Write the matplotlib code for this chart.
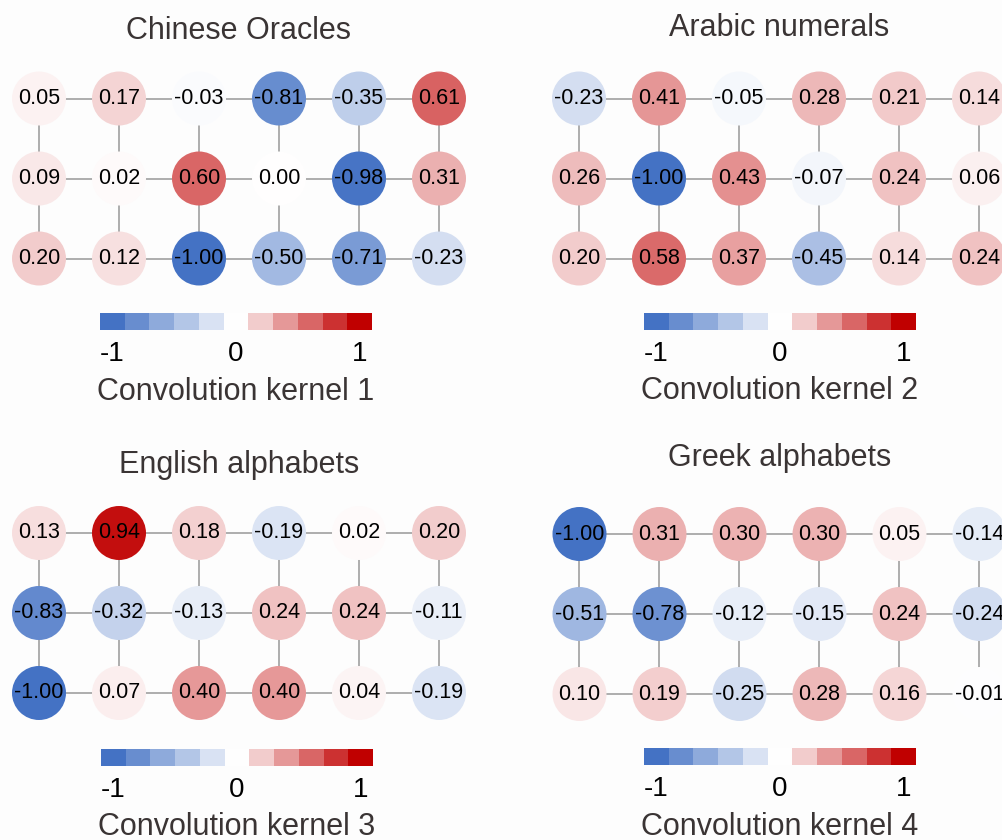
import numpy as np
import matplotlib.pyplot as plt
from matplotlib.colors import LinearSegmentedColormap, Normalize
from matplotlib.patches import Circle

plt.rcParams['font.family'] = ['Liberation Sans', 'DejaVu Sans']

# Kernel weights, one 3x6 grid per training set
titles = ["Chinese Oracles", "Arabic numerals", "English alphabets", "Greek alphabets"]
kernel_names = ["Convolution kernel 1", "Convolution kernel 2",
                "Convolution kernel 3", "Convolution kernel 4"]

chinese = [[0.05, 0.17, -0.03, -0.81, -0.35, 0.61],
           [0.09, 0.02, 0.60, 0.00, -0.98, 0.31],
           [0.20, 0.12, -1.00, -0.50, -0.71, -0.23]]
arabic = [[-0.23, 0.41, -0.05, 0.28, 0.21, 0.14],
          [0.26, -1.00, 0.43, -0.07, 0.24, 0.06],
          [0.20, 0.58, 0.37, -0.45, 0.14, 0.24]]
english = [[0.13, 0.94, 0.18, -0.19, 0.02, 0.20],
           [-0.83, -0.32, -0.13, 0.24, 0.24, -0.11],
           [-1.00, 0.07, 0.40, 0.40, 0.04, -0.19]]
greek = [[-1.00, 0.31, 0.30, 0.30, 0.05, -0.14],
         [-0.51, -0.78, -0.12, -0.15, 0.24, -0.24],
         [0.10, 0.19, -0.25, 0.28, 0.16, -0.01]]

kernels = [chinese, arabic, english, greek]
legend_levels = [-1.0, -0.8, -0.6, -0.4, -0.2, 0.0, 0.2, 0.4, 0.6, 0.8, 1.0]
legend_ticks = ["-1", "0", "1"]

cmap = LinearSegmentedColormap.from_list("bwr_xl", ["#4472C4", "#FFFFFF", "#C00000"])
norm = Normalize(-1, 1)

W, H = 1003, 840
fig = plt.figure(figsize=(W / 100, H / 100), dpi=100, facecolor="#fdfdfd")


def px_axes(left, top, width, height):
    # axes placed by pixel box, origin at top-left
    return fig.add_axes([left / W, 1 - (top + height) / H, width / W, height / H])


def px_text(x, y, s, **kw):
    fig.text(x / W, 1 - y / H, s, ha="center", va="baseline", **kw)


pitch = 80
radius = 27 / pitch
# (first circle centre x, first circle centre y, colorbar left, colorbar top,
#  title baseline, caption baseline)
panels = [(39, 98.5, 100, 313, 39, 400),
          (579, 98.5, 644, 313, 36, 399),
          (39, 533, 101, 749, 473, 835),
          (579.5, 534, 644, 748, 466, 835)]

for k, (cx, cy, bx, by, ty, ly) in enumerate(panels):
    vals = np.array(kernels[k])
    nrow, ncol = vals.shape
    ax = px_axes(cx - pitch / 2, cy - pitch / 2, ncol * pitch, nrow * pitch)
    ax.set_xlim(-0.5, ncol - 0.5)
    ax.set_ylim(nrow - 0.5, -0.5)
    ax.axis("off")

    # grid connections
    for r in range(nrow):
        ax.plot([0, ncol - 1], [r, r], color="#a0a0a0", lw=1.2, zorder=1)
    for c in range(ncol):
        ax.plot([c, c], [0, nrow - 1], color="#a0a0a0", lw=1.2, zorder=1)

    for r in range(nrow):
        for c in range(ncol):
            v = vals[r, c]
            ax.add_patch(Circle((c, r), radius, facecolor=cmap(norm(v)),
                                edgecolor="none", zorder=2, clip_on=False))
            ax.text(c, r, f"{v:.2f}", ha="center", va="center",
                    fontsize=15.5, color="black", zorder=3, clip_on=False)

    # stepped colour legend
    n = len(legend_levels)
    cax = px_axes(bx, by, 272, 17)
    cax.imshow([legend_levels], cmap=cmap, norm=norm, aspect="auto",
               extent=(0, n, 0, 1))
    cax.axis("off")
    block = 272 / n
    for i, lab in zip([0, n // 2, n - 1], legend_ticks):
        px_text(bx + (i + 0.5) * block, by + 48, lab, fontsize=20, color="black")

    px_text(cx + 2.5 * pitch, ty, titles[k], fontsize=22, color="#3a3434")
    px_text(bx + 136, ly, kernel_names[k], fontsize=22, color="#3a3434")

fig.savefig("out.png", dpi=100, facecolor=fig.get_facecolor())
